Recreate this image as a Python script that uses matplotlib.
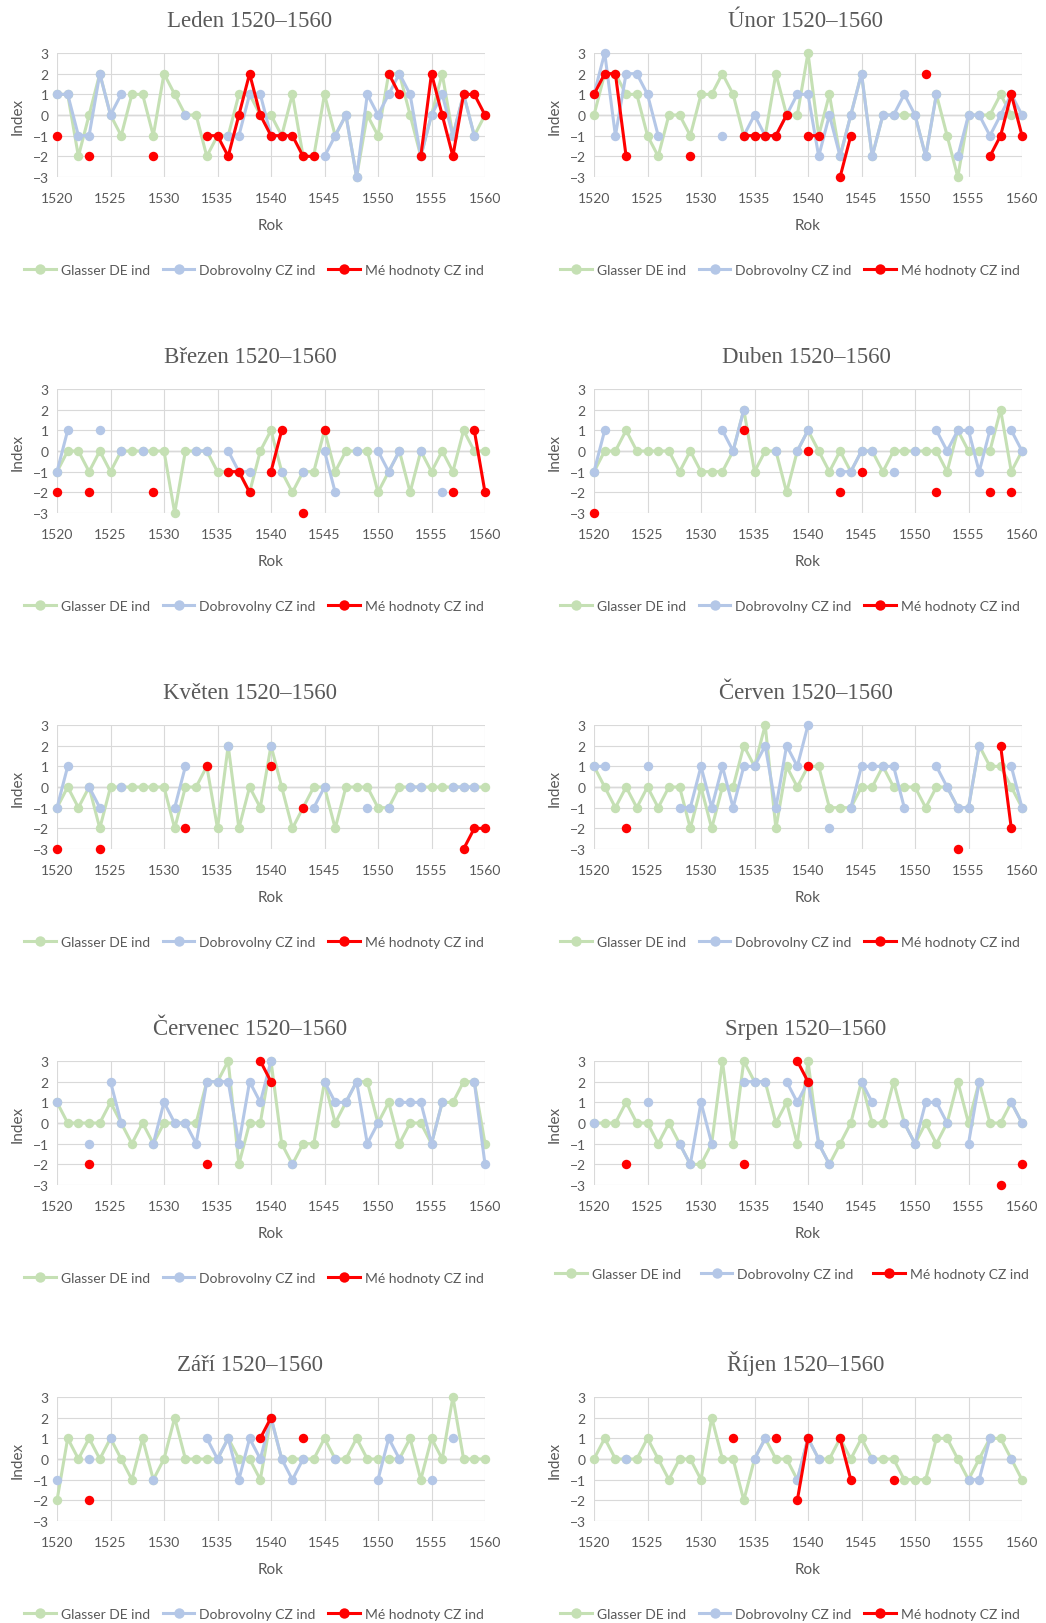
import numpy as np
import matplotlib
matplotlib.use("Agg")
from matplotlib import pyplot as plt

_ = None
years = list(range(1520, 1561))
x_ticks = list(range(1520, 1561, 5))
y_ticks = [-3, -2, -1, 0, 1, 2, 3]
series_names = ["Glasser DE ind", "Dobrovolny CZ ind", "Mé hodnoty CZ ind"]

# Leden
leden_glasser = [1, 1, -2, 0, 2, 0, -1, 1, 1, -1, 2, 1, 0, 0, -2, -1, -1, 1, 1, 0,
                 0, -1, 1, -2, -2, 1, -1, 0, -3, 0, -1, 2, 2, 0, -2, 0, 2, -1, 1, -1, 0]
leden_dobrovolny = [1, 1, -1, -1, 2, 0, 1, _, _, _, _, _, 0, _, _, _, -1, -1, 1, 1,
                    -1, -1, _, _, _, -2, -1, 0, -3, 1, 0, 1, 2, 1, -2, 0, 1, -1, 1, -1, _]
leden_moje = [-1, _, _, -2, _, _, _, _, _, -2, _, _, _, _, -1, -1, -2, 0, 2, 0,
              -1, -1, -1, -2, -2, _, _, _, _, _, _, 2, 1, _, -2, 2, 0, -2, 1, 1, 0]

# Unor
unor_glasser = [0, 2, 2, 1, 1, -1, -2, 0, 0, -1, 1, 1, 2, 1, -1, -1, -1, 2, 0, 0,
                3, -1, 1, -2, 0, 2, -2, 0, 0, 0, 0, -2, 1, -1, -3, 0, 0, 0, 1, 0, 0]
unor_dobrovolny = [1, 3, -1, 2, 2, 1, -1, _, _, _, _, _, -1, _, -1, 0, -1, -1, 0, 1,
                   1, -2, 0, -2, 0, 2, -2, 0, 0, 1, 0, -2, 1, _, -2, 0, 0, -1, 0, 1, 0]
unor_moje = [1, 2, 2, -2, _, _, _, _, _, -2, _, _, _, _, -1, -1, -1, -1, 0, _,
             -1, -1, _, -3, -1, _, _, _, _, _, _, 2, _, _, _, _, _, -2, -1, 1, -1]

# Brezen
brezen_glasser = [-1, 0, 0, -1, 0, -1, 0, 0, 0, 0, 0, -3, 0, 0, 0, -1, -1, -1, -2, 0,
                  1, -1, -2, -1, -1, 1, -1, 0, 0, 0, -2, -1, 0, -2, 0, -1, 0, -1, 1, 0, 0]
brezen_dobrovolny = [-1, 1, _, _, 1, _, 0, _, 0, _, _, _, _, 0, 0, _, 0, -1, -1, _,
                     _, -1, _, -1, _, 0, -2, _, 0, _, 0, -1, 0, _, 0, _, -2, _, _, _, _]
brezen_moje = [-2, _, _, -2, _, _, _, _, _, -2, _, _, _, _, _, _, -1, -1, -2, _,
               -1, 1, _, -3, _, 1, _, _, _, _, _, _, _, _, _, _, _, -2, _, 1, -2]

# Duben
duben_glasser = [-1, 0, 0, 1, 0, 0, 0, 0, -1, 0, -1, -1, -1, 0, 2, -1, 0, 0, -2, 0,
                 1, 0, -1, 0, -1, 0, 0, -1, 0, 0, 0, 0, 0, -1, 1, 0, 0, 0, 2, -1, 0]
duben_dobrovolny = [-1, 1, _, _, _, _, _, _, _, _, _, _, 1, 0, 2, _, _, 0, _, 0,
                    1, _, _, -1, -1, 0, 0, _, -1, _, 0, _, 1, 0, 1, 1, -1, 1, _, 1, 0]
duben_moje = [-3, _, _, _, _, _, _, _, _, _, _, _, _, _, 1, _, _, _, _, _,
              0, _, _, -2, _, -1, _, _, _, _, _, _, -2, _, _, _, _, -2, _, -2, _]

# Kveten
kveten_glasser = [-1, 0, -1, 0, -2, 0, 0, 0, 0, 0, 0, -2, 0, 0, 1, -2, 2, -2, 0, -1,
                  2, 0, -2, -1, 0, 0, -2, 0, 0, 0, -1, -1, 0, 0, 0, 0, 0, 0, 0, 0, 0]
kveten_dobrovolny = [-1, 1, _, 0, -1, _, 0, _, _, _, _, -1, 1, _, _, _, 2, _, _, _,
                     2, _, _, _, -1, 0, _, _, _, -1, _, -1, _, 0, 0, _, _, 0, 0, 0, _]
kveten_moje = [-3, _, _, _, -3, _, _, _, _, _, _, _, -2, _, 1, _, _, _, _, _,
               1, _, _, -1, _, _, _, _, _, _, _, _, _, _, _, _, _, _, -3, -2, -2]

# Cerven
cerven_glasser = [1, 0, -1, 0, -1, 0, -1, 0, 0, -2, 0, -2, 0, 0, 2, 1, 3, -2, 1, 0,
                  1, 1, -1, -1, -1, 0, 0, 1, 0, 0, 0, -1, 0, 0, -1, -1, 2, 1, 1, 0, -1]
cerven_dobrovolny = [1, 1, _, _, _, 1, _, _, -1, -1, 1, -1, 1, -1, 1, 1, 2, -1, 2, 1,
                     3, _, -2, _, -1, 1, 1, 1, 1, -1, _, _, 1, 0, -1, -1, 2, _, _, 1, -1]
cerven_moje = [_, _, _, -2, _, _, _, _, _, _, _, _, _, _, _, _, _, _, _, _,
               1, _, _, _, _, _, _, _, _, _, _, _, _, _, -3, _, _, _, 2, -2, _]

# Cervenec
cervenec_glasser = [1, 0, 0, 0, 0, 1, 0, -1, 0, -1, 0, 0, 0, 0, 2, 2, 3, -2, 0, 0,
                    3, -1, -2, -1, -1, 2, 0, 1, 2, 2, 0, 1, -1, 0, 0, -1, 1, 1, 2, 2, -1]
cervenec_dobrovolny = [1, _, _, -1, _, 2, 0, _, _, -1, 1, 0, 0, -1, 2, 2, 2, -1, 2, 1,
                       3, _, -2, _, _, 2, 1, 1, 2, -1, 0, _, 1, 1, 1, -1, 1, _, _, 2, -2]
cervenec_moje = [_, _, _, -2, _, _, _, _, _, _, _, _, _, _, -2, _, _, _, _, 3,
                 2, _, _, _, _, _, _, _, _, _, _, _, _, _, _, _, _, _, _, _, _]

# Srpen
srpen_glasser = [0, 0, 0, 1, 0, 0, -1, 0, -1, -2, -2, -1, 3, -1, 3, 2, 2, 0, 1, -1,
                 3, -1, -2, -1, 0, 2, 0, 0, 2, 0, -1, 0, -1, 0, 2, 0, 2, 0, 0, 1, 0]
srpen_dobrovolny = [0, _, _, _, _, 1, _, _, -1, -2, 1, -1, _, _, 2, 2, 2, _, 2, 1,
                    2, -1, -2, _, _, 2, 1, _, _, 0, -1, 1, 1, 0, _, -1, 2, _, _, 1, 0]
srpen_moje = [_, _, _, -2, _, _, _, _, _, _, _, _, _, _, -2, _, _, _, _, 3,
              2, _, _, _, _, _, _, _, _, _, _, _, _, _, _, _, _, _, -3, _, -2]

# Zari
zari_glasser = [-2, 1, 0, 1, 0, 1, 0, -1, 1, -1, 0, 2, 0, 0, 0, 0, 1, 0, 0, -1,
                2, 0, 0, 0, 0, 1, 0, 0, 1, 0, 0, 0, 0, 1, -1, 1, 0, 3, 0, 0, 0]
zari_dobrovolny = [-1, _, _, 0, _, 1, _, _, _, -1, _, _, _, _, 1, 0, 1, -1, 1, 0,
                   2, 0, -1, 0, _, _, 0, _, _, _, -1, 1, 0, _, _, -1, _, 1, _, _, _]
zari_moje = [_, _, _, -2, _, _, _, _, _, _, _, _, _, _, _, _, _, _, _, 1,
             2, _, _, 1, _, _, _, _, _, _, _, _, _, _, _, _, _, _, _, _, _]

# Rijen
rijen_glasser = [0, 1, 0, 0, 0, 1, 0, -1, 0, 0, -1, 2, 0, 0, -2, 0, 1, 0, 0, -1,
                 1, 0, 0, 1, 0, 1, 0, 0, 0, -1, -1, -1, 1, 1, 0, -1, 0, 1, 1, 0, -1]
rijen_dobrovolny = [_, _, _, 0, _, _, _, _, _, _, _, _, _, _, _, 0, 1, _, _, -1,
                    1, 0, _, _, _, _, 0, _, _, _, _, _, _, _, _, -1, -1, 1, _, 0, _]
rijen_moje = [_, _, _, _, _, _, _, _, _, _, _, _, _, 1, _, _, _, 1, _, -2,
              1, _, _, 1, -1, _, _, _, -1, _, _, _, _, _, _, _, _, _, _, _, _]

W, H = 1046, 1624
TEXT = "#595959"
GREEN = "#C5E0B4"
BLUE = "#B4C7E7"
RED = "#FF0000"
SANS = ["Lato", "DejaVu Sans"]

fig = plt.figure(figsize=(W / 100, H / 100), dpi=100)

col_left = [57, 594]
col_right = [485, 1022]
title_x = [250, 806]
legend_x = [254, 790]


def draw_panel(col, row, title, glasser, dobrovolny, moje,
               legend_dy=0, legend_dx=0, colspacing=0.9):
    x0, x1 = col_left[col], col_right[col]
    top = 54 + 336 * row
    h = 124
    ax = fig.add_axes([x0 / W, 1 - (top + h) / H, (x1 - x0) / W, h / H])

    lines = []
    for vals, color in zip([glasser, dobrovolny, moje], [GREEN, BLUE, RED]):
        y = np.array(vals, dtype=float)
        (ln,) = ax.plot(years, y, color=color, linewidth=2.2, marker="o",
                        markersize=6.8, markeredgewidth=0, clip_on=False, zorder=3)
        lines.append(ln)

    ax.set_xlim(1520, 1560)
    ax.set_ylim(-3, 3)
    ax.set_xticks(x_ticks)
    ax.set_yticks(y_ticks)
    for s in ax.spines.values():
        s.set_visible(False)
    ax.grid(True, color="#D9D9D9", linewidth=0.8, zorder=0)
    ax.axhline(0, color="#BFBFBF", linewidth=1.0, zorder=1)
    ax.tick_params(length=0, labelsize=10, labelcolor=TEXT)
    ax.tick_params(axis="x", pad=11)
    ax.tick_params(axis="y", pad=6)
    for lab in ax.get_xticklabels() + ax.get_yticklabels():
        lab.set_family(SANS)
    ax.set_ylabel("Index", fontsize=11, color=TEXT, family=SANS, labelpad=6)
    ax.set_xlabel("Rok", fontsize=11, color=TEXT, family=SANS, labelpad=10)

    # baseline alignment keeps accented titles at the same height
    fig.text(title_x[col] / W, 1 - (top - 27) / H, title, ha="center", va="baseline",
             fontsize=16.5, color=TEXT, family="Liberation Serif")

    ax.legend(lines, series_names, loc="center", ncol=3, frameon=False,
              bbox_to_anchor=((legend_x[col] + legend_dx) / W,
                              1 - (top + 217 + legend_dy) / H),
              bbox_transform=fig.transFigure, numpoints=1, handlelength=2.3,
              handletextpad=0.35, columnspacing=colspacing, markerscale=1.1,
              prop={"family": SANS, "size": 10}, labelcolor=TEXT)


draw_panel(0, 0, "Leden 1520–1560", leden_glasser, leden_dobrovolny, leden_moje)
draw_panel(1, 0, "Únor 1520–1560", unor_glasser, unor_dobrovolny, unor_moje)
draw_panel(0, 1, "Březen 1520–1560", brezen_glasser, brezen_dobrovolny, brezen_moje)
draw_panel(1, 1, "Duben 1520–1560", duben_glasser, duben_dobrovolny, duben_moje)
draw_panel(0, 2, "Květen 1520–1560", kveten_glasser, kveten_dobrovolny, kveten_moje)
draw_panel(1, 2, "Červen 1520–1560", cerven_glasser, cerven_dobrovolny, cerven_moje)
draw_panel(0, 3, "Červenec 1520–1560", cervenec_glasser, cervenec_dobrovolny, cervenec_moje)
draw_panel(1, 3, "Srpen 1520–1560", srpen_glasser, srpen_dobrovolny, srpen_moje,
           legend_dy=-4, legend_dx=2, colspacing=1.4)
draw_panel(0, 4, "Září 1520–1560", zari_glasser, zari_dobrovolny, zari_moje)
draw_panel(1, 4, "Říjen 1520–1560", rijen_glasser, rijen_dobrovolny, rijen_moje)

fig.savefig("out.png", dpi=100, facecolor="white")
